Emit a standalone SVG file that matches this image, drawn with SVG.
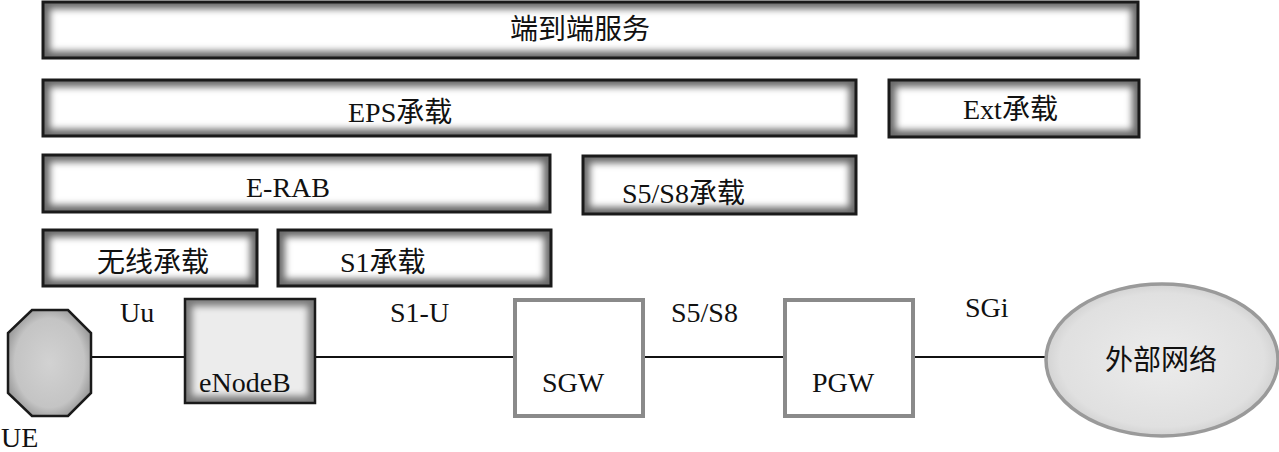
<svg xmlns="http://www.w3.org/2000/svg" width="1279" height="452" viewBox="0 0 1279 452">
<defs>
<style>
.t{font-family:'Liberation Serif','Times New Roman','DejaVu Serif','Noto Sans CJK SC',serif;font-size:28px;fill:#111}
.bo{fill:#6a6a6a;stroke:none}
.bi{fill:#fff;filter:url(#soft)}
.bs{fill:none;stroke:#1a1a1a;stroke-width:3}
.gw{fill:#fff;stroke:#8a8a8a;stroke-width:4}
.ln{stroke:#111;stroke-width:2;fill:none}
</style>
<filter id="soft" x="-5%" y="-20%" width="110%" height="140%"><feGaussianBlur stdDeviation="3.5"/></filter>
<radialGradient id="ueg" cx="50%" cy="50%" r="60%"><stop offset="0" stop-color="#d2d2d2"/><stop offset="0.7" stop-color="#c4c4c4"/><stop offset="1" stop-color="#8a8a8a"/></radialGradient>
<radialGradient id="elg" cx="50%" cy="50%" r="55%"><stop offset="0" stop-color="#ececec"/><stop offset="0.8" stop-color="#e0e0e0"/><stop offset="1" stop-color="#c8c8c8"/></radialGradient>
</defs>
<g id="connectors">
<line class="ln" x1="91" y1="357" x2="186" y2="357"/>
<line class="ln" x1="315" y1="357" x2="514" y2="357"/>
<line class="ln" x1="643" y1="357" x2="784" y2="357"/>
<line class="ln" x1="914" y1="357" x2="1046" y2="357"/>
</g>
<g id="e2e">
<rect class="bo" x="43" y="2" width="1095" height="56"/>
<rect class="bi" x="50" y="9" width="1081" height="42"/>
<rect class="bs" x="43" y="2" width="1095" height="56"/>
<text class="t" x="510" y="39">端到端服务</text>
</g>
<g id="eps">
<rect class="bo" x="43" y="80" width="813" height="56"/>
<rect class="bi" x="50" y="87" width="799" height="42"/>
<rect class="bs" x="43" y="80" width="813" height="56"/>
<text class="t" x="348" y="122">EPS承载</text>
</g>
<g id="ext">
<rect class="bo" x="889" y="80" width="250" height="57"/>
<rect class="bi" x="896" y="87" width="236" height="43"/>
<rect class="bs" x="889" y="80" width="250" height="57"/>
<text class="t" x="963" y="119">Ext承载</text>
</g>
<g id="erab">
<rect class="bo" x="43" y="155" width="507" height="57"/>
<rect class="bi" x="50" y="162" width="493" height="43"/>
<rect class="bs" x="43" y="155" width="507" height="57"/>
<text class="t" x="246" y="197">E-RAB</text>
</g>
<g id="s5s8bearer">
<rect class="bo" x="583" y="156" width="273" height="58"/>
<rect class="bi" x="590" y="163" width="259" height="44"/>
<rect class="bs" x="583" y="156" width="273" height="58"/>
<text class="t" x="622" y="203">S5/S8承载</text>
</g>
<g id="radio">
<rect class="bo" x="43" y="230" width="214" height="56"/>
<rect class="bi" x="50" y="237" width="200" height="42"/>
<rect class="bs" x="43" y="230" width="214" height="56"/>
<text class="t" x="97" y="272">无线承载</text>
</g>
<g id="s1bearer">
<rect class="bo" x="278" y="230" width="273" height="56"/>
<rect class="bi" x="285" y="237" width="259" height="42"/>
<rect class="bs" x="278" y="230" width="273" height="56"/>
<text class="t" x="340" y="272">S1承载</text>
</g>
<g id="ue">
<polygon points="32,310 68,310 91,333 91,393 68,416 32,416 8,393 8,333" fill="url(#ueg)" stroke="#1a1a1a" stroke-width="2.5"/>
<text class="t" x="1" y="447">UE</text>
</g>
<g id="enodeb">
<rect class="bo" x="185" y="299" width="130" height="104" style="fill:#7a7a7a"/>
<rect x="192" y="306" width="116" height="90" fill="#ececec" filter="url(#soft)"/>
<rect class="bs" x="185" y="299" width="130" height="104" style="stroke-width:2.5"/>
<text class="t" x="199" y="392">eNodeB</text>
</g>
<g id="sgw">
<rect class="gw" x="515" y="300" width="128" height="116"/>
<text class="t" x="542" y="392">SGW</text>
</g>
<g id="pgw">
<rect class="gw" x="785" y="300" width="128" height="116"/>
<text class="t" x="812" y="392">PGW</text>
</g>
<g id="extnet">
<ellipse cx="1162" cy="360" rx="116" ry="76" fill="url(#elg)" stroke="#9a9a9a" stroke-width="3.5"/>
<text class="t" x="1105" y="370">外部网络</text>
</g>
<g id="labels">
<text class="t" x="120" y="322">Uu</text>
<text class="t" x="390" y="322">S1-U</text>
<text class="t" x="671" y="322">S5/S8</text>
<text class="t" x="965" y="317">SGi</text>
</g>
</svg>
